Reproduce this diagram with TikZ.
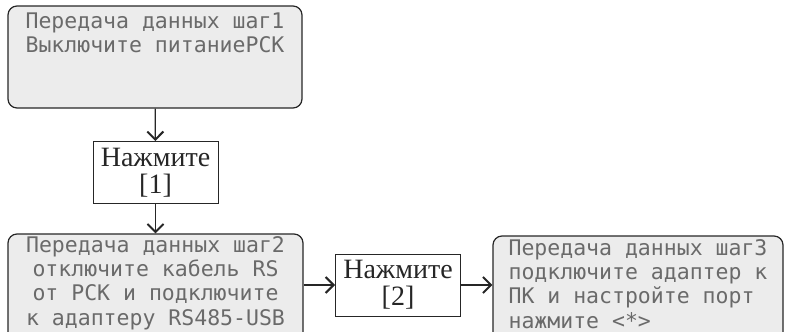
\documentclass[tikz,border=0pt]{standalone}
\usepackage{fontspec}
\setmainfont{Liberation Serif}
\newfontfamily\lcdfont{DejaVu Sans Mono}
\usepackage{xcolor}
\usetikzlibrary{arrows.meta}

\definecolor{lcdfill}{HTML}{ECECEC}
\definecolor{lcdtext}{HTML}{6A6A6A}

\tikzset{
  lcd/.style={draw=black!85, line width=1.2pt, fill=lcdfill, rounded corners=9pt,
    minimum width=#1, inner sep=0pt,
    font=\lcdfont\fontsize{21.5}{24.2}\selectfont, text=lcdtext},
  btn/.style={draw=black!85, line width=1pt, minimum width=125pt, minimum height=62pt,
    inner sep=0pt, align=center, font=\fontsize{28}{27}\selectfont, text=black!85},
  arr/.style={draw=black!85, line width=1.2pt, -{Straight Barb[length=8pt,width=16pt,line width=2pt]}}
}

\begin{document}
\begin{tikzpicture}[x=1pt,y=-1pt]
\useasboundingbox (0,0) rectangle (785,332);
\clip (0,0) rectangle (785,332);

\node[lcd=294pt, minimum height=102pt, align=left] at (155, 57) (step1)
  {Передача данных шаг1\\Выключите питаниеРСК\\\mbox{}\\\mbox{}};
\node[btn] at (155.5, 172.5) (key1) {Нажмите\\{[}1{]}};
\node[lcd=295pt, minimum height=118pt, align=center] at (155.5, 293) (step2)
  {Передача данных шаг2\\отключите кабель RS\\от РСК и подключите\\к адаптеру RS485-USB\\\mbox{}};
\node[btn] at (398, 285) (key2) {Нажмите\\{[}2{]}};
\node[lcd=290pt, minimum height=120pt, align=left] at (638, 296) (step3)
  {Передача данных шаг3\\подключите адаптер к\\ПК и настройте порт\\нажмите <*>\\\mbox{}};

\draw[arr] (step1) -- (key1);
\draw[arr] (key1) -- (step2);
\draw[arr] (step2.east |- key2.west) -- (key2.west);
\draw[arr] (key2.east) -- (step3.west |- key2.east);
\end{tikzpicture}
\end{document}
